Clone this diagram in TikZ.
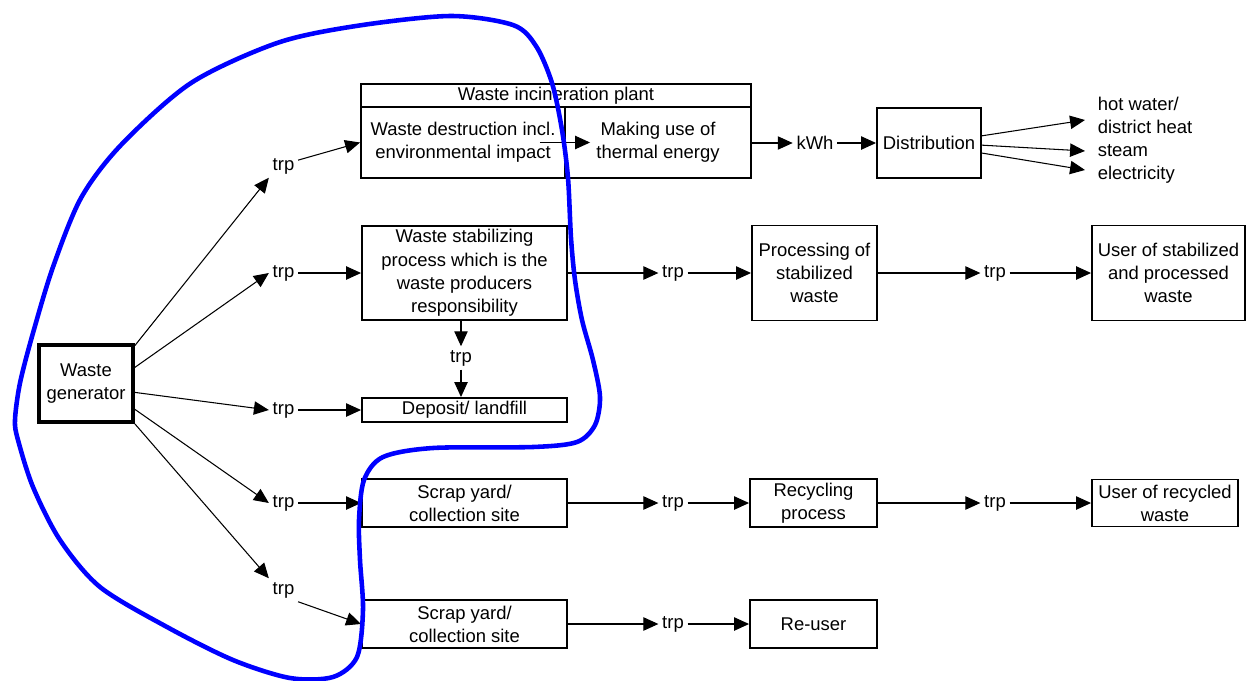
\documentclass[tikz,border=0pt]{standalone}
\usepackage{fontspec}
\setmainfont{Liberation Sans}
\usetikzlibrary{arrows.meta, positioning, calc}
\definecolor{loopblue}{RGB}{0, 0, 255}
\newcommand{\diagfont}{\fontsize{10.5}{13.2}\selectfont}
\tikzset{
  box/.style={draw, line width=1.1pt, inner sep=0pt, align=center, font=\diagfont},
  genbox/.style={box, line width=2.2pt},
  trp/.style={inner sep=2pt, font=\diagfont},
  outlbl/.style={inner sep=2pt, anchor=west, align=left, font=\diagfont},
  arr/.style={-{Triangle[length=8.5pt, width=7.6pt]}, line width=0.6pt}
}

\begin{document}
\begin{tikzpicture}[x=0.02cm, y=-0.02cm]
  \useasboundingbox (0,0) rectangle (1248,680);

  % Generator
  \node[genbox, minimum width=1.88cm, minimum height=1.54cm] (gen) at (86, 383.5) {Waste\\generator};

  % Incineration plant
  \node[box, minimum width=7.8cm, minimum height=0.46cm] (incin) at (556, 95.5) {Waste incineration plant};
  \node[box, minimum width=4.08cm, minimum height=1.42cm] (destr) at (463, 142.5) {Waste destruction incl.\\environmental impact};
  \node[box, minimum width=3.72cm, minimum height=1.42cm] (therm) at (658, 142.5) {Making use of\\thermal energy};
  \node[trp] (kwh) at (815, 143) {kWh};
  \node[box, minimum width=2.08cm, minimum height=1.4cm] (dist) at (929, 143) {Distribution};
  \node[outlbl] (hot) at (1094, 115) {hot water/\\district heat};
  \node[outlbl] (steam) at (1094, 151) {steam};
  \node[outlbl] (elec) at (1094, 175) {electricity};

  % Stabilizing
  \node[box, minimum width=4.1cm, minimum height=1.88cm] (stab) at (464.5, 273) {Waste stabilizing\\process which is the\\waste producers\\responsibility};
  \node[box, minimum width=2.5cm, minimum height=1.9cm] (proc) at (814.5, 273) {Processing of\\stabilized\\waste};
  \node[box, minimum width=3.06cm, minimum height=1.9cm] (stabuser) at (1168.5, 273) {User of stabilized\\and processed\\waste};
  \node[box, minimum width=4.1cm, minimum height=0.48cm] (depo) at (464.5, 410) {Deposit/ landfill};

  % Scrap yards
  \node[box, minimum width=4.1cm, minimum height=0.96cm] (scrapA) at (464.5, 503) {Scrap yard/\\collection site};
  \node[box, minimum width=2.54cm, minimum height=0.96cm] (recyc) at (813.5, 503) {Recycling\\process};
  \node[box, minimum width=2.92cm, minimum height=0.94cm] (recuser) at (1165, 503) {User of recycled\\waste};
  \node[box, minimum width=4.1cm, minimum height=0.96cm] (scrapB) at (464.5, 624) {Scrap yard/\\collection site};
  \node[box, minimum width=2.54cm, minimum height=0.96cm] (reuser) at (813.5, 624) {Re-user};

  % trp labels
  \node[trp] (t1) at (283.5, 166) {trp};
  \node[trp] (t2) at (283.5, 273) {trp};
  \node[trp] (t3) at (283.5, 410) {trp};
  \node[trp] (t4) at (283.5, 503) {trp};
  \node[trp] (t5) at (283.5, 590) {trp};
  \node[trp] (t6) at (461, 358) {trp};
  \node[trp] (t7) at (673, 273) {trp};
  \node[trp] (t8) at (995, 273) {trp};
  \node[trp] (t9) at (673, 503) {trp};
  \node[trp] (t10) at (995, 503) {trp};
  \node[trp] (t11) at (673, 624) {trp};

  % from generator
  \draw[arr] ($(gen.north east)!0.03!(gen.south east)$) -- (t1.south west);
  \draw[arr] ($(gen.north east)!0.3!(gen.south east)$) -- (t2.west);
  \draw[arr] ($(gen.north east)!0.61!(gen.south east)$) -- (t3.west);
  \draw[arr] ($(gen.north east)!0.82!(gen.south east)$) -- (t4.west);
  \draw[arr] (gen.south east) -- (t5.north west);

  % incineration row
  \draw[arr] ($(t1.east)!0.5!(t1.north east)$) -- (destr.west);
  \draw[arr] ($(destr.east)+(-26,0)$) -- ($(therm.west)+(26,0)$);
  \draw[arr] (therm.east |- kwh) -- (kwh);
  \draw[arr] (kwh) -- (dist);
  \draw[arr] ($(dist.north east)!0.4!(dist.south east)$) -- ($(hot.west)+(-9,5)$);
  \draw[arr] ($(dist.north east)!0.53!(dist.south east)$) -- ($(steam.west)+(-9,0)$);
  \draw[arr] ($(dist.north east)!0.64!(dist.south east)$) -- ($(elec.west)+(-9,-5)$);

  % stabilizing row
  \draw[arr] (t2) -- (stab);
  \draw[arr] (stab) -- (t7);
  \draw[arr] (t7) -- (proc);
  \draw[arr] (proc) -- (t8);
  \draw[arr] (t8) -- (stabuser);
  \draw[arr] (t6.north |- stab.south) -- (t6);
  \draw[arr] (t6) -- (t6 |- depo.north);
  \draw[arr] (t3) -- (depo);

  % scrap rows
  \draw[arr] (t4) -- (scrapA);
  \draw[arr] (scrapA) -- (t9);
  \draw[arr] (t9) -- (recyc);
  \draw[arr] (recyc) -- (t10);
  \draw[arr] (t10) -- (recuser);
  \draw[arr] (t5.south east) -- (scrapB.west);
  \draw[arr] (scrapB) -- (t11);
  \draw[arr] (t11) -- (reuser);

  % responsibility border
  \draw[loopblue, line width=2.6pt] plot[smooth cycle] coordinates {
    (450,16) (513,25) (536,46) (552,83) (562,130) (568,178) (571,238) (575,280)
    (582,320) (593,360) (600,397) (595,425) (577,442) (533,447) (433,448) (383,457)
    (364,480) (359,520) (360,560) (363,610) (357,657) (333,677) (290,678) (233,660)
    (167,627) (100,587) (60,540) (33,487) (18,440) (15,420) (20,383) (33,333)
    (53,267) (81,198) (121,145) (191,83) (277,43) (356,26)};
\end{tikzpicture}
\end{document}
